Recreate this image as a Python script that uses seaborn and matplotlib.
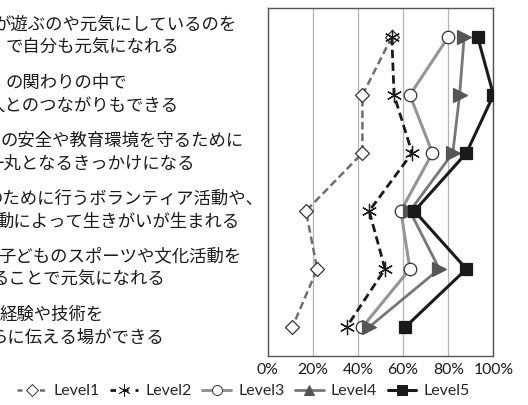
import matplotlib
matplotlib.use("Agg")
import matplotlib.pyplot as plt
import matplotlib.transforms as mtransforms
from matplotlib.lines import Line2D
import seaborn as sns
import numpy as np
import pandas as pd

# ---------------- data ----------------
label_lines = [
    ["が遊ぶのや元気にしているのを", "で自分も元気になれる"],
    ["の関わりの中で", "人とのつながりもできる"],
    ["の安全や教育環境を守るために", "一丸となるきっかけになる"],
    ["のために行うボランティア活動や、", "動によって生きがいが生まれる"],
    ["子どものスポーツや文化活動を", "ることで元気になれる"],
    ["経験や技術を", "らに伝える場ができる"],
]
label_right_px = [[237, 179], [127, 179], [244, 195], [263, 240], [241, 165], [104, 165]]

levels = ["Level1", "Level2", "Level3", "Level4", "Level5"]
level1 = [55, 42, 42, 17, 22, 11]
level2 = [55, 56, 64, 45, 52, 35]
level3 = [80, 63, 73, 59, 63, 42]
level4 = [87, 85, 82, 63, 76, 45]
level5 = [93, 100, 88, 65, 88, 61]
series = [level1, level2, level3, level4, level5]

xticks = [0, 20, 40, 60, 80, 100]
xtick_labels = ["0%", "20%", "40%", "60%", "80%", "100%"]

# ---------------- style ----------------
sns.set_theme(style="white")
plt.rcParams["font.family"] = ["Lato", "Noto Sans CJK JP", "DejaVu Sans"]

W, H = 528, 405
fig = plt.figure(figsize=(W / 100, H / 100), dpi=100)
ax = fig.add_axes([267.5 / W, (H - 356) / H, 226 / W, 348 / H])

styles = [
    dict(color="#6e6e6e", lw=1.8, dashes=(3, 1.6), marker="D", ms=7.5,
         mfc="white", mec="#333333", mew=0.9),
    dict(color="#1a1a1a", lw=2.0, dashes=(3, 1.6), marker=(6, 2, 0), ms=11,
         mfc="#1a1a1a", mec="#1a1a1a", mew=0.9),
    dict(color="#959595", lw=2.2, marker="o", ms=9,
         mfc="white", mec="#333333", mew=0.9),
    dict(color="#777777", lw=2.0, marker=">", ms=9.5,
         mfc="#555555", mec="#555555", mew=0.9),
    dict(color="#1a1a1a", lw=2.2, marker="s", ms=8.5,
         mfc="#1a1a1a", mec="#1a1a1a", mew=0.9),
]

pos = np.arange(len(label_lines))
for name, vals, st in zip(levels, series, styles):
    df = pd.DataFrame({"value": vals, "pos": pos})
    kw = dict(color=st["color"], linewidth=st["lw"], marker=st["marker"],
              markersize=st["ms"], markerfacecolor=st["mfc"],
              markeredgecolor=st["mec"], markeredgewidth=st["mew"])
    sns.lineplot(data=df, x="value", y="pos", orient="y", sort=False,
                 estimator=None, ax=ax, zorder=3, **kw)
    if "dashes" in st:
        ax.lines[-1].set_dashes(st["dashes"])

ax.set_xlim(0, 100)
ax.set_ylim(len(label_lines) - 0.5, -0.5)
ax.set_xticks(xticks)
ax.set_xticklabels(xtick_labels, fontsize=11.3, color="#1a1a1a")
ax.set_yticks([])
ax.set_xlabel("")
ax.set_ylabel("")
ax.tick_params(axis="x", length=0, pad=5)
ax.grid(axis="x", color="#b5b5b5", lw=0.9)
ax.set_axisbelow(True)
for s in ax.spines.values():
    s.set_color("#555555")
    s.set_linewidth(1.0)
    s.set_visible(True)

# category labels on the left (clipped at the figure edge, as in the original)
for i, (lines, rights) in enumerate(zip(label_lines, label_right_px)):
    for j, (txt, rx) in enumerate(zip(lines, rights)):
        dy = 12.5 if j == 0 else -10.5
        tr = mtransforms.offset_copy(ax.transData, fig=fig, x=0, y=dy, units="dots")
        xd = (rx - 267.5) / 226 * 100
        ax.text(xd, pos[i], txt, transform=tr, ha="right", va="center",
                fontsize=12.5, family=["Noto Sans CJK JP", "DejaVu Sans"],
                color="#1a1a1a", clip_on=False)

# legend
handles = []
for name, st in zip(levels, styles):
    mk = "^" if st["marker"] == ">" else st["marker"]
    h = Line2D([0], [0], color=st["color"], lw=st["lw"], marker=mk,
               markersize=st["ms"] * 0.8, markerfacecolor=st["mfc"],
               markeredgecolor=st["mec"],
               markeredgewidth=0.5 if name == "Level2" else 0.7)
    if "dashes" in st:
        h.set_dashes((2, 2.5))
    handles.append(h)
fig.legend(handles, levels, loc="center", bbox_to_anchor=(243.5 / W, 1 - 391 / H),
           ncol=5, frameon=False, fontsize=11.5, handlelength=1.8,
           handletextpad=0.45, columnspacing=0.65, borderpad=0)

fig.savefig("out.png", dpi=100)
